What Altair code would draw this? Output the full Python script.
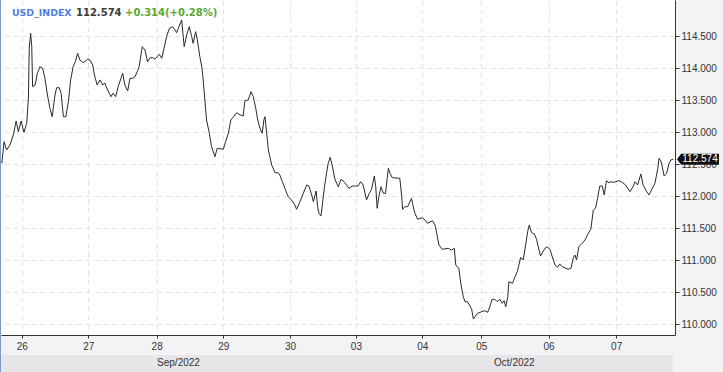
import altair as alt
import pandas as pd

# hourly USD index trace (bar index in hours from the first bar, close price)
hours = [
    0.3, 1.1, 2.0, 3.2, 4.4, 5.4, 6.2, 7.2, 8.2, 9.2,
    9.8, 10.1, 10.6, 11.0, 11.3, 12.2, 13.0, 13.9, 14.9, 15.7,
    16.6, 17.5, 18.3, 19.3, 19.9, 20.8, 21.5, 22.3, 23.2, 24.1,
    24.9, 25.8, 26.6, 27.4, 28.2, 29.2, 30.0, 30.9, 31.8, 32.8,
    33.4, 34.4, 35.4, 36.4, 37.1, 37.8, 39.3, 40.1, 41.0, 41.9,
    43.5, 44.3, 45.3, 46.1, 47.1, 47.9, 48.7, 49.4, 50.5, 51.5,
    52.4, 53.3, 54.2, 55.1, 56.6, 57.5, 58.3, 59.2, 60.2, 61.4,
    62.2, 62.8, 63.4, 64.6, 65.5, 66.4, 67.3, 68.2, 68.7, 69.6,
    70.2, 71.1, 71.8, 72.3, 72.9, 73.5, 74.5, 75.3, 76.5, 77.3,
    79.5, 80.3, 81.3, 82.2, 83.0, 84.3, 85.1, 86.6, 87.2, 88.4,
    89.4, 90.2, 91.1, 91.8, 92.6, 93.4, 94.0, 94.4, 95.0, 95.6,
    96.8, 98.0, 99.1, 99.7, 100.6, 101.5, 102.7, 103.9, 104.9, 105.7,
    106.9, 108.1, 109.3, 110.1, 111.1, 111.7, 112.7, 113.2, 113.7, 114.4,
    114.9, 115.6, 116.4, 117.0, 117.7, 118.4, 119.4, 120.6, 121.6, 122.7,
    124.4, 125.6, 127.7, 128.6, 129.5, 130.7, 131.7, 132.5, 133.5, 134.0,
    134.5, 135.1, 135.9, 136.7, 137.5, 138.5, 139.1, 139.9, 142.6, 143.3,
    143.6, 144.4, 145.4, 146.8, 147.4, 148.0, 149.0, 150.6, 151.6, 152.5,
    154.3, 155.2, 155.8, 156.6, 157.8, 159.9, 161.1, 162.1, 162.6, 163.7,
    164.5, 165.3, 165.9, 166.8, 167.7, 168.3, 168.9, 170.4, 171.9, 173.0,
    174.0, 174.8, 175.6, 176.6, 177.4, 178.4, 179.2, 179.9, 180.5, 181.2,
    181.6, 182.9, 183.8, 184.6, 185.2, 185.8, 186.7, 187.6, 188.3, 188.9,
    189.7, 190.7, 191.5, 192.1, 192.9, 193.9, 195.1, 196.3, 197.1, 198.1,
    199.0, 199.8, 200.7, 202.8, 203.8, 204.6, 205.2, 205.8, 206.6, 207.6,
    208.8, 210.0, 210.9, 211.8, 212.6, 213.3, 214.1, 215.0, 215.7, 216.5,
    217.4, 218.1, 219.3, 220.7, 221.9, 223.3, 224.9, 226.0, 226.7, 227.6,
    228.8, 229.6, 230.5, 231.7, 232.6, 233.8, 234.8, 235.3, 236.1, 237.1,
    238.0, 238.8, 239.5, 240.4,
]
prices = [
    112.511, 112.848, 112.719, 112.797, 112.953, 113.172, 113.005, 113.172, 112.995, 113.136,
    113.531, 114.308, 114.542, 114.333, 113.708, 113.734, 113.917, 114.020, 113.995, 113.839,
    113.578, 113.370, 113.239, 113.578, 113.692, 113.692, 113.605, 113.239, 113.239, 113.473,
    113.813, 114.020, 114.098, 114.230, 114.125, 114.089, 114.098, 114.136, 114.125, 114.047,
    113.891, 113.734, 113.813, 113.734, 113.766, 113.688, 113.552, 113.605, 113.552, 113.708,
    113.917, 113.734, 113.641, 113.839, 113.839, 113.864, 113.942, 114.020, 114.333, 114.281,
    114.098, 114.161, 114.161, 114.141, 114.214, 114.152, 114.308, 114.489, 114.620, 114.645,
    114.594, 114.552, 114.620, 114.750, 114.333, 114.516, 114.645, 114.489, 114.386, 114.567,
    114.438, 114.177, 114.020, 113.813, 113.500, 113.188, 112.980, 112.770, 112.614, 112.745,
    112.730, 112.848, 112.980, 113.188, 113.230, 113.302, 113.277, 113.250, 113.489, 113.500,
    113.630, 113.552, 113.370, 113.188, 113.058, 112.980, 113.188, 113.239, 112.980, 112.719,
    112.484, 112.364, 112.364, 112.328, 112.223, 112.120, 111.989, 111.938, 111.875, 111.792,
    111.911, 112.042, 112.172, 112.156, 112.016, 111.911, 112.078, 111.833, 111.730, 111.688,
    111.859, 112.120, 112.355, 112.511, 112.605, 112.484, 112.261, 112.145, 112.261, 112.223,
    112.120, 112.156, 112.156, 112.223, 112.172, 111.938, 112.042, 112.105, 112.313, 112.145,
    111.808, 111.989, 112.145, 112.042, 112.042, 112.433, 112.355, 112.286, 112.277, 111.989,
    111.792, 111.833, 111.833, 111.964, 111.833, 111.730, 111.636, 111.661, 111.625, 111.573,
    111.614, 111.547, 111.417, 111.234, 111.167, 111.183, 111.156, 111.183, 110.922, 110.870,
    110.609, 110.427, 110.348, 110.348, 110.281, 110.230, 110.078, 110.167, 110.192, 110.208,
    110.183, 110.270, 110.386, 110.386, 110.348, 110.386, 110.323, 110.364, 110.270, 110.427,
    110.661, 110.636, 110.739, 110.817, 110.922, 111.042, 111.000, 111.234, 111.442, 111.547,
    111.427, 111.406, 111.323, 111.208, 111.063, 111.141, 111.208, 111.167, 111.052, 110.922,
    110.886, 110.938, 110.895, 110.855, 110.870, 111.027, 111.078, 111.000, 111.208, 111.250,
    111.313, 111.417, 111.480, 111.781, 111.808, 111.964, 112.156, 112.156, 112.016, 112.239,
    112.208, 112.223, 112.214, 112.239, 112.223, 112.172, 112.067, 112.145, 112.223, 112.172,
    112.344, 112.172, 112.094, 112.016, 112.094, 112.198, 112.417, 112.589, 112.531, 112.313,
    112.355, 112.500, 112.563, 112.574,
]

day_ticks = [7.40, 31.21, 55.66, 79.47, 103.32, 126.91, 150.61, 171.71, 195.80, 219.97]
day_labels = ["26", "27", "28", "29", "30", "03", "04", "05", "06", "07"]
price_ticks = [110.0, 110.5, 111.0, 111.5, 112.0, 112.5, 113.0, 113.5, 114.0, 114.5]
months = ["Sep/2022", "Oct/2022"]
month_start = [0.0, 126.91]
month_end = [126.91, 240.2]

symbol = "USD_INDEX"
last_price = 112.574
change = 0.314
change_pct = 0.28

n = min(len(hours), len(prices))
df = pd.DataFrame({"h": hours[:n], "p": prices[:n]})
df_last = pd.DataFrame({"p": [last_price], "label": [f"{last_price:.3f}"]})
df_months = pd.DataFrame({"m": months, "s": month_start, "e": month_end})
df_months["mid"] = (df_months["s"] + df_months["e"]) / 2
one = pd.DataFrame({"k": [0]})

x_scale = alt.Scale(domain=[0, 241], nice=False, zero=False)
y_scale = alt.Scale(domain=[109.828125, 115.0625], nice=False, zero=False)

label_expr = (
    "[" + ",".join(f"'{l}'" for l in day_labels) + "][indexof(["
    + ",".join(str(t) for t in day_ticks) + "], datum.value)]"
)

FONT = "Liberation Sans"
GRID = "#e3e3e3"

x_axis = alt.Axis(
    orient="bottom", values=day_ticks, labelExpr=label_expr, title=None,
    grid=True, gridColor=GRID, gridDash=[5, 4], gridWidth=1,
    tickSize=3, tickColor="#333333", domainColor="#333333", domainWidth=1,
    labelFont=FONT, labelFontSize=10, labelColor="#333333", labelPadding=3,
    labelOverlap=False, labelFlush=False,
)
y_axis = alt.Axis(
    orient="right", values=price_ticks, format=".3f", title=None,
    grid=True, gridColor=GRID, gridDash=[5, 4], gridWidth=1,
    tickSize=4, tickColor="#333333", domainColor="#333333", domainWidth=1,
    labelFont=FONT, labelFontSize=10, labelColor="#333333", labelPadding=2,
    labelOverlap=False, labelFlush=False,
)

line = alt.Chart(df).mark_line(color="#2a2a2a", strokeWidth=1, clip=True).encode(
    x=alt.X("h:Q", scale=x_scale, axis=x_axis, title=None),
    y=alt.Y("p:Q", scale=y_scale, axis=y_axis, title=None),
)

tag_path = "M -1 0 L -0.8 -0.26 L 1 -0.26 L 1 0.26 L -0.8 0.26 Z"
tag = alt.Chart(df_last).mark_point(
    shape=tag_path, size=1764, filled=True, color="#111111", opacity=1, strokeWidth=0
).encode(
    x=alt.value(697),
    y=alt.Y("p:Q", scale=y_scale, axis=y_axis, title=None),
)
tag_text = alt.Chart(df_last).mark_text(
    color="white", font=FONT, fontSize=10, align="center", baseline="middle"
).encode(
    x=alt.value(699),
    y=alt.Y("p:Q", scale=y_scale, axis=y_axis, title=None),
    text="label:N",
)

bands = alt.Chart(df_months).mark_rect(color="#e6e6e8", clip=False).encode(
    x=alt.X("s:Q", scale=x_scale, axis=x_axis, title=None),
    x2="e:Q",
    y=alt.value(355),
    y2=alt.value(372),
)
band_text = alt.Chart(df_months).mark_text(
    font=FONT, fontSize=10, color="#333333", align="center", baseline="middle"
).encode(
    x=alt.X("mid:Q", scale=x_scale, axis=x_axis, title=None),
    y=alt.value(363),
    text="m:N",
)

left_edge = alt.Chart(one).mark_rule(color="#7d98c2", strokeWidth=1).encode(
    x=alt.value(-0.5), y=alt.value(0), y2=alt.value(372)
)

t1 = alt.Chart(one).mark_text(
    font="DejaVu Sans", fontWeight="bold", fontSize=9.4, align="left",
    baseline="middle", color="#4f80de"
).encode(x=alt.value(11), y=alt.value(12.5), text=alt.value(symbol))
t2 = alt.Chart(one).mark_text(
    font="DejaVu Sans", fontWeight="bold", fontSize=10, align="left",
    baseline="middle", color="#3a3a3a"
).encode(x=alt.value(75), y=alt.value(12.5), text=alt.value(f"{last_price:.3f}"))
t3 = alt.Chart(one).mark_text(
    font="DejaVu Sans", fontWeight="bold", fontSize=10, align="left",
    baseline="middle", color="#5aa630"
).encode(x=alt.value(124), y=alt.value(12.5),
         text=alt.value(f"+{change:.3f}(+{change_pct:.2f}%)"))

chart = alt.layer(
    bands, band_text, line, tag, tag_text, left_edge, t1, t2, t3
).properties(
    width=674, height=335,
    padding={"left": 1, "top": 0, "right": 48, "bottom": 37},
    autosize=alt.AutoSizeParams(type="none"),
    background="#f3f3f5",
).configure_view(fill="white", stroke=None)

chart.save("out.html", embed_options={"renderer": "svg", "actions": False})
